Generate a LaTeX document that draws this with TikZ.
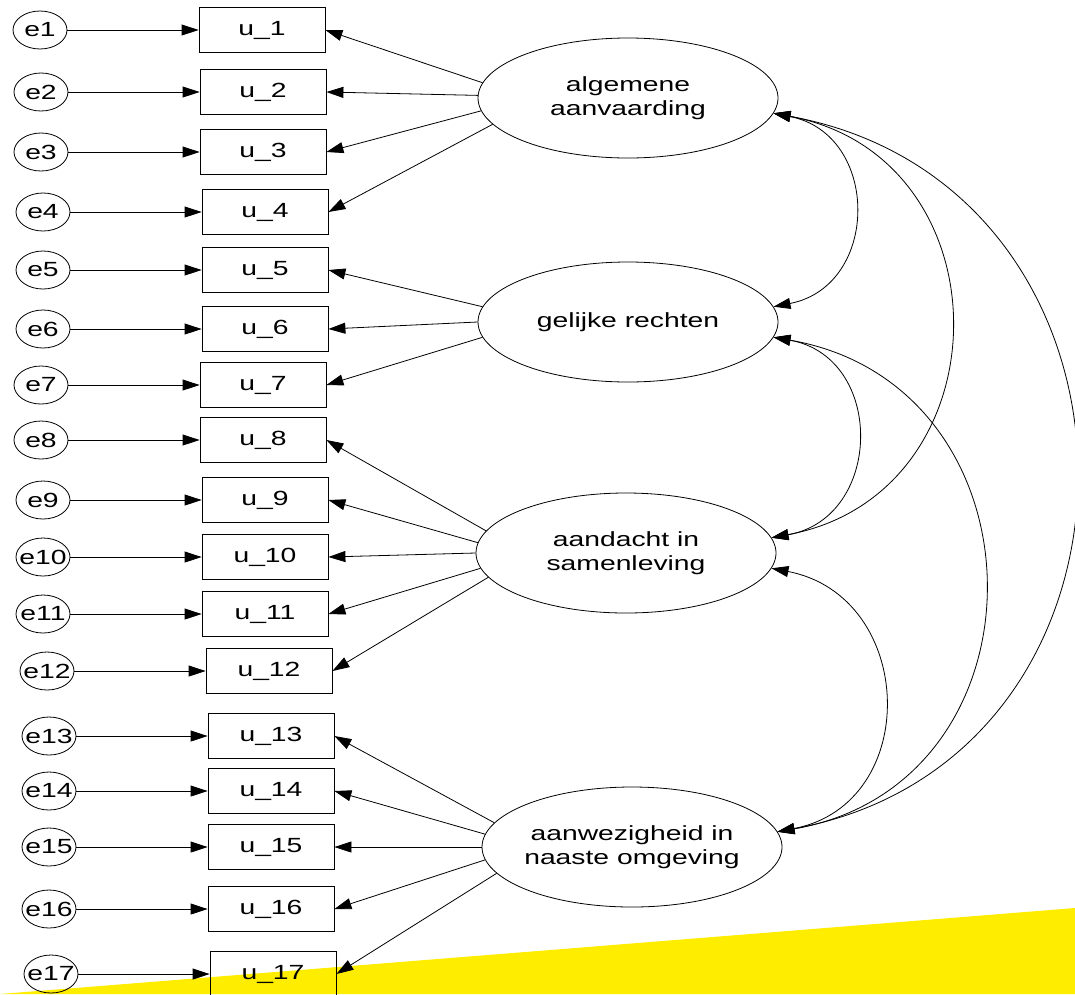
\documentclass[tikz,border=0pt]{standalone}
\usepackage{fontspec}
\setmainfont{Liberation Sans}[FakeStretch=1.38]
\usepackage{tikz}
\usetikzlibrary{arrows,arrows.meta,shapes.geometric,positioning}
\definecolor{marker}{RGB}{255,237,0}

\begin{document}
\begin{tikzpicture}[->,>={Triangle[length=17pt,width=11pt]},x=1pt,y=-1pt,
                    thick,node distance=222pt,font=\fontsize{20.5}{24}\selectfont]
  \tikzstyle{item}=[draw=black,rectangle,minimum width=126pt,minimum height=45pt,inner sep=0pt]
  \tikzstyle{err}=[draw=black,ellipse,minimum width=54pt,minimum height=38pt,inner sep=0pt]
  \tikzstyle{factor}=[draw=black,ellipse,minimum width=300pt,minimum height=120pt,inner sep=0pt]

  \useasboundingbox (0,0) rectangle (1075,994);
  % yellow band at the bottom
  \fill[-,marker] (0,994) -- (1075,908) -- (1075,994) -- cycle;

  % observed items
  \node[item] (u1)  at (262,30)  {u\_1};
  \node[item] (u2)  at (263,92)  {u\_2};
  \node[item] (u3)  at (263,152) {u\_3};
  \node[item] (u4)  at (265,212) {u\_4};
  \node[item] (u5)  at (265,270) {u\_5};
  \node[item] (u6)  at (265,329) {u\_6};
  \node[item] (u7)  at (263,385) {u\_7};
  \node[item] (u8)  at (263,440) {u\_8};
  \node[item] (u9)  at (265,500) {u\_9};
  \node[item] (u10) at (265,557) {u\_10};
  \node[item] (u11) at (265,614) {u\_11};
  \node[item] (u12) at (269,671) {u\_12};
  \node[item] (u13) at (271,736) {u\_13};
  \node[item] (u14) at (271,791) {u\_14};
  \node[item] (u15) at (271,847) {u\_15};
  \node[item] (u16) at (271,909) {u\_16};
  \node[item] (u17) at (273,974) {u\_17};

  % error terms
  \node[err,label=center:e1]  (e1)  [left of=u1]  {};
  \node[err,label=center:e2]  (e2)  [left of=u2]  {};
  \node[err,label=center:e3]  (e3)  [left of=u3]  {};
  \node[err,label=center:e4]  (e4)  [left of=u4]  {};
  \node[err,label=center:e5]  (e5)  [left of=u5]  {};
  \node[err,label=center:e6]  (e6)  [left of=u6]  {};
  \node[err,label=center:e7]  (e7)  [left of=u7]  {};
  \node[err,label=center:e8]  (e8)  [left of=u8]  {};
  \node[err,label=center:e9]  (e9)  [left of=u9]  {};
  \node[err,label=center:e10] (e10) [left of=u10] {};
  \node[err,label=center:e11] (e11) [left of=u11] {};
  \node[err,label=center:e12] (e12) [left of=u12] {};
  \node[err,label=center:e13] (e13) [left of=u13] {};
  \node[err,label=center:e14] (e14) [left of=u14] {};
  \node[err,label=center:e15] (e15) [left of=u15] {};
  \node[err,label=center:e16] (e16) [left of=u16] {};
  \node[err,label=center:e17] (e17) [left of=u17] {};

  % latent factors
  \node[factor,label={[align=center]center:algemene\\aanvaarding}]       (alg) at (628,98)  {};
  \node[factor,label={[align=center]center:gelijke rechten}]              (gel) at (628,322) {};
  \node[factor,label={[align=center]center:aandacht in\\samenleving}]     (aan) at (626,553) {};
  \node[factor,label={[align=center]center:aanwezigheid in\\naaste omgeving}] (anw) at (632,847) {};

  \path (e1) edge (u1)   (e2) edge (u2)   (e3) edge (u3)   (e4) edge (u4)
        (e5) edge (u5)   (e6) edge (u6)   (e7) edge (u7)   (e8) edge (u8)
        (e9) edge (u9)   (e10) edge (u10) (e11) edge (u11) (e12) edge (u12)
        (e13) edge (u13) (e14) edge (u14) (e15) edge (u15) (e16) edge (u16)
        (e17) edge (u17);

  % loadings
  \path (alg.174) edge (u1.east)  (alg.179) edge (u2.east)  (alg.185) edge (u3.east)
        (alg.191) edge (u4.east)
        (gel.174) edge (u5.east)  (gel.180) edge (u6.east)  (gel.186) edge (u7.east)
        (aan.171) edge (u8.east)  (aan.176) edge (u9.east)  (aan.180) edge (u10.east)
        (aan.186) edge (u11.east) (aan.190) edge (u12.east)
        (anw.170) edge (u13.east) (anw.175) edge (u14.east) (anw.180) edge (u15.east)
        (anw.185) edge (u16.east) (anw.191) edge (u17.east);

  % covariances
  \draw[<->] (alg.-6) .. controls +(107,21)  and +(107,-21)  .. (gel.6);
  \draw[<->] (alg.-6) .. controls +(236,44)  and +(236,-44)  .. (aan.6);
  \draw[<->] (alg.-6) .. controls +(398,73)  and +(398,-73)  .. (anw.6);
  \draw[<->] (gel.-6) .. controls +(112,20)  and +(112,-20)  .. (aan.6);
  \draw[<->] (gel.-6) .. controls +(277,48)  and +(277,-48)  .. (anw.6);
  \draw[<->] (aan.-6) .. controls +(145,28)  and +(145,-28)  .. (anw.6);
\end{tikzpicture}
\end{document}
